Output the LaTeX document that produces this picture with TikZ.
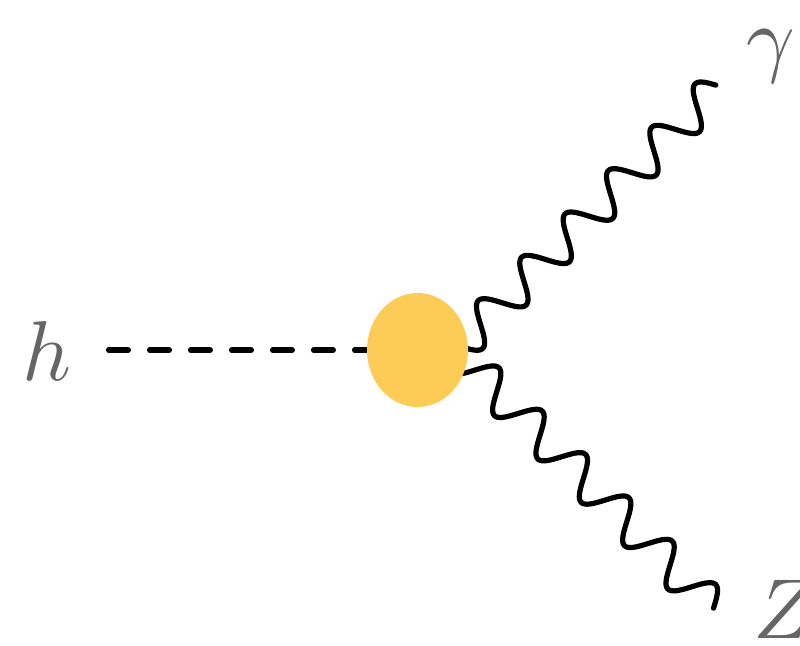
\documentclass[tikz,border=0pt]{standalone}
\usetikzlibrary{calc,shapes.geometric}
\definecolor{blobfill}{RGB}{253,204,87}
\definecolor{labelgray}{RGB}{102,102,102}
\pgfdeclarelayer{bg}
\pgfsetlayers{bg,main}
\begin{document}
\begin{tikzpicture}[x=1pt,y=-1pt,
  photon/.style={line width=5.2pt,line join=round,line cap=round,
    to path={let \p1=(\tikztostart), \p2=(\tikztotarget),
      \n1={veclen(\x2-\x1,\y2-\y1)}, \n2={atan2(\y2-\y1,\x2-\x1)} in
      {[shift={(\p1)},rotate=\n2]
       plot[domain=0:\n1,samples=260,smooth,variable=\t] (\t,{-18.5*sin(\t*5.8728)})}}},
  scalar/.style={line width=5.5pt,line cap=round,dash pattern=on 19.5pt off 21.5pt},
  blobstyle/.style={ellipse,fill=blobfill,minimum width=101pt,minimum height=114pt,inner sep=0pt},
  lbl/.style={inner sep=0pt,text=labelgray,font=\normalsize,scale=8.5}]
\useasboundingbox (0,0) rectangle (800,645);
% labels
\node[lbl,anchor=base] (h) at (47,380) {$h$};
\node[lbl,anchor=base] (gam) at (771,66) {$\gamma$};
\node[lbl,anchor=base west] (Z) at (752,638) {$Z$};
% vertex blob
\node[blobstyle] (blob) at (417.5,350) {};
% connector end points
\coordinate (hstart) at (108.7,350);
\coordinate (g0) at (437.2,367.8);
\coordinate (g1) at (717.9,87.2);
\coordinate (z0) at (431.7,326.7);
\coordinate (z1) at (713.4,608.4);
\begin{pgfonlayer}{bg}
\draw[scalar] (hstart) -- (blob.center);
\draw[photon] (g0) to (g1);
\draw[photon] (z0) to (z1);
\end{pgfonlayer}
\end{tikzpicture}
\end{document}
